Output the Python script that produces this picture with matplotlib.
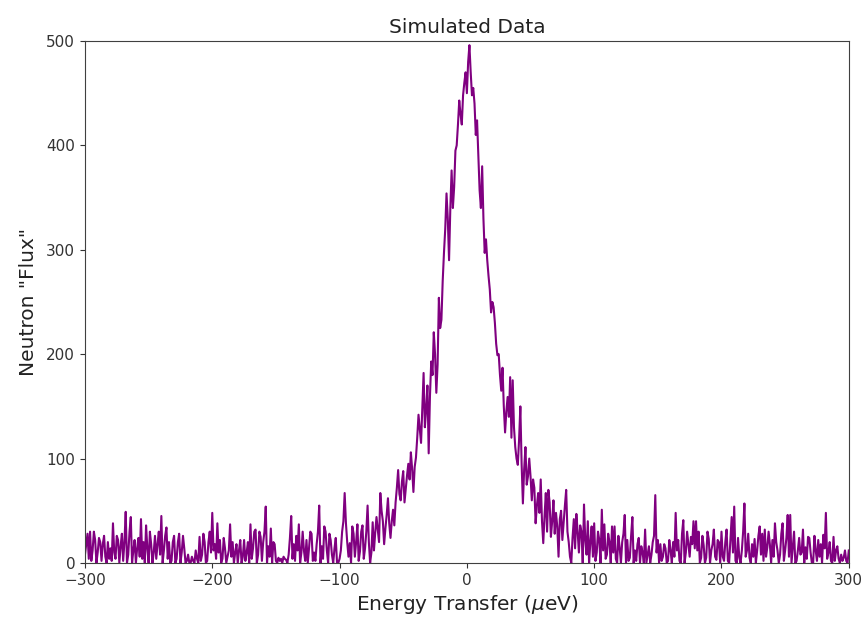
import numpy as np
import matplotlib
matplotlib.use("Agg")
import matplotlib.pyplot as plt

# Neutron flux at even energies: -300, -298, ..., 300 ueV
flux_even = [
    8, 28, 30, 12, 22, 10, 20, 18, 6, 20,        # -300..-282
    14, 38, 4, 22, 16, 2, 49, 8, 44, 12,         # -280..-262
    0, 24, 42, 20, 36, 0, 18, 10, 4, 30,         # -260..-242
    45, 12, 34, 20, 2, 26, 4, 28, 10, 14,        # -240..-222
    2, 0, 6, 0, 4, 25, 8, 20, 2, 30,             # -220..-202
    48, 18, 38, 22, 4, 14, 6, 37, 20, 10,        # -200..-182
    0, 22, 6, 2, 20, 37, 14, 32, 8, 25,          # -180..-162
    20, 54, 16, 33, 20, 2, 5, 4, 6, 3,           # -160..-142
    8, 45, 18, 26, 37, 10, 12, 22, 14, 28,       # -140..-122
    10, 18, 55, 16, 35, 12, 28, 8, 14, 0,        # -120..-102
    4, 30, 67, 20, 19, 35, 6, 37, 11, 36,        # -100..-82
    14, 55, 0, 39, 29, 32, 67, 40, 33, 62,       # -80..-62
    24, 51, 58, 89, 60, 88, 71, 95, 106, 68,     # -60..-42
    101, 142, 115, 182, 147, 105, 193, 221, 163, 254,  # -40..-22
    233, 297, 354, 290, 376, 360, 400, 443, 420, 460,  # -20..-2
    450, 496, 448, 440, 424, 357, 380, 297, 290, 262,  # 0..18
    250, 230, 199, 180, 187, 125, 159, 178, 175, 111,  # 20..38
    94, 150, 57, 111, 83, 83, 80, 38, 67, 80,    # 40..58
    19, 67, 70, 25, 60, 48, 6, 50, 39, 70,       # 60..78
    20, 0, 42, 47, 10, 30, 56, 8, 0, 35,         # 80..98
    38, 10, 22, 51, 37, 8, 20, 35, 35, 0,        # 100..118
    15, 20, 46, 22, 5, 44, 12, 18, 0, 10,        # 120..138
    32, 8, 0, 20, 65, 22, 18, 6, 14, 2,          # 140..158
    12, 20, 48, 22, 0, 41, 10, 18, 25, 40,       # 160..178
    40, 30, 5, 17, 5, 23, 12, 32, 3, 20,         # 180..198
    30, 2, 32, 0, 44, 54, 0, 5, 12, 57,          # 200..218
    12, 5, 18, 23, 12, 35, 28, 32, 15, 18,       # 220..238
    22, 38, 12, 8, 38, 12, 46, 46, 15, 0,        # 240..258
    12, 8, 32, 15, 25, 10, 0, 12, 22, 18,        # 260..278
    27, 48, 10, 2, 25, 12, 4, 8, 5, 2,           # 280..298
    12,                                          # 300
]

# Neutron flux at odd energies: -299, -297, ..., 299 ueV
flux_odd = [
    18, 4, 2, 30, 0, 24, 2, 26, 0, 4,            # -299..-281
    2, 10, 26, 0, 28, 20, 0, 30, 0, 22,          # -279..-261
    14, 6, 4, 0, 14, 30, 0, 26, 18, 8,           # -259..-241
    0, 26, 4, 0, 20, 0, 20, 0, 26, 0,            # -239..-221
    8, 0, 2, 12, 0, 2, 28, 0, 20, 10,            # -219..-201
    12, 4, 10, 0, 24, 0, 12, 6, 0, 18,           # -199..-181
    12, 0, 22, 10, 0, 4, 30, 0, 30, 2,           # -179..-161
    30, 0, 6, 0, 18, 0, 2, 0, 4, 0,              # -159..-141
    24, 4, 2, 12, 0, 30, 2, 0, 30, 2,            # -139..-121
    2, 30, 0, 4, 30, 0, 22, 0, 24, 0,            # -119..-101
    12, 40, 38, 6, 0, 28, 20, 2, 30, 4,          # -99..-81
    30, 20, 10, 12, 44, 20, 50, 18, 46, 38,      # -79..-61
    40, 36, 72, 66, 78, 58, 84, 80, 90, 92,      # -59..-41
    120, 128, 150, 130, 170, 160, 180, 200, 190, 225,  # -39..-21
    270, 320, 330, 340, 340, 395, 420, 430, 448, 470,  # -19..-1
    480, 470, 455, 410, 390, 340, 330, 310, 275, 240,  # 1..19
    245, 210, 200, 165, 150, 145, 140, 120, 130, 100,  # 21..39
    118, 95, 90, 75, 100, 60, 72, 55, 48, 40,    # 41..59
    45, 30, 58, 40, 28, 35, 42, 22, 55, 30,      # 61..79
    6, 24, 14, 30, 36, 0, 22, 40, 20, 6,         # 81..99
    2, 30, 0, 12, 4, 28, 0, 10, 4, 26,           # 101..119
    0, 28, 0, 2, 26, 0, 2, 24, 16, 0,            # 121..139
    0, 16, 8, 26, 10, 0, 2, 18, 0, 22,           # 141..159
    0, 6, 12, 2, 28, 0, 30, 6, 18, 14,           # 161..179
    12, 0, 26, 0, 30, 0, 18, 6, 22, 0,           # 181..199
    6, 20, 2, 22, 10, 2, 24, 0, 30, 6,           # 201..219
    28, 0, 6, 0, 26, 8, 2, 6, 30, 0,             # 221..239
    6, 20, 0, 28, 2, 24, 6, 0, 30, 2,            # 241..259
    24, 10, 0, 4, 24, 0, 26, 2, 6, 0,            # 261..279
    14, 4, 20, 0, 2, 16, 0, 2, 12, 0,            # 281..299
]

flux = np.empty(len(flux_even) + len(flux_odd))
flux[0::2] = flux_even
flux[1::2] = flux_odd
energy = np.linspace(-300, 300, len(flux))

x_ticks = [-300, -200, -100, 0, 100, 200, 300]
y_ticks = [0, 100, 200, 300, 400, 500]

fig = plt.figure(figsize=(8.67, 6.24), dpi=100)
ax = fig.add_axes([0.098, 0.0978, 0.881, 0.8365])
ax.plot(energy, flux, color="purple", linewidth=1.5)
ax.set_xlim(-300, 300)
ax.set_ylim(0, 500)
ax.set_xticks(x_ticks)
ax.set_yticks(y_ticks)
ax.tick_params(labelsize=11, colors="#333333")
for s in ax.spines.values():
    s.set_color("#404040")
ax.set_title("Simulated Data", fontsize=14.5, color="#222222")
ax.set_xlabel(r"Energy Transfer ($\mu$eV)", fontsize=14.5, color="#222222")
ax.set_ylabel('Neutron "Flux"', fontsize=14.5, color="#222222", labelpad=6)
fig.savefig("out.png", dpi=100)
